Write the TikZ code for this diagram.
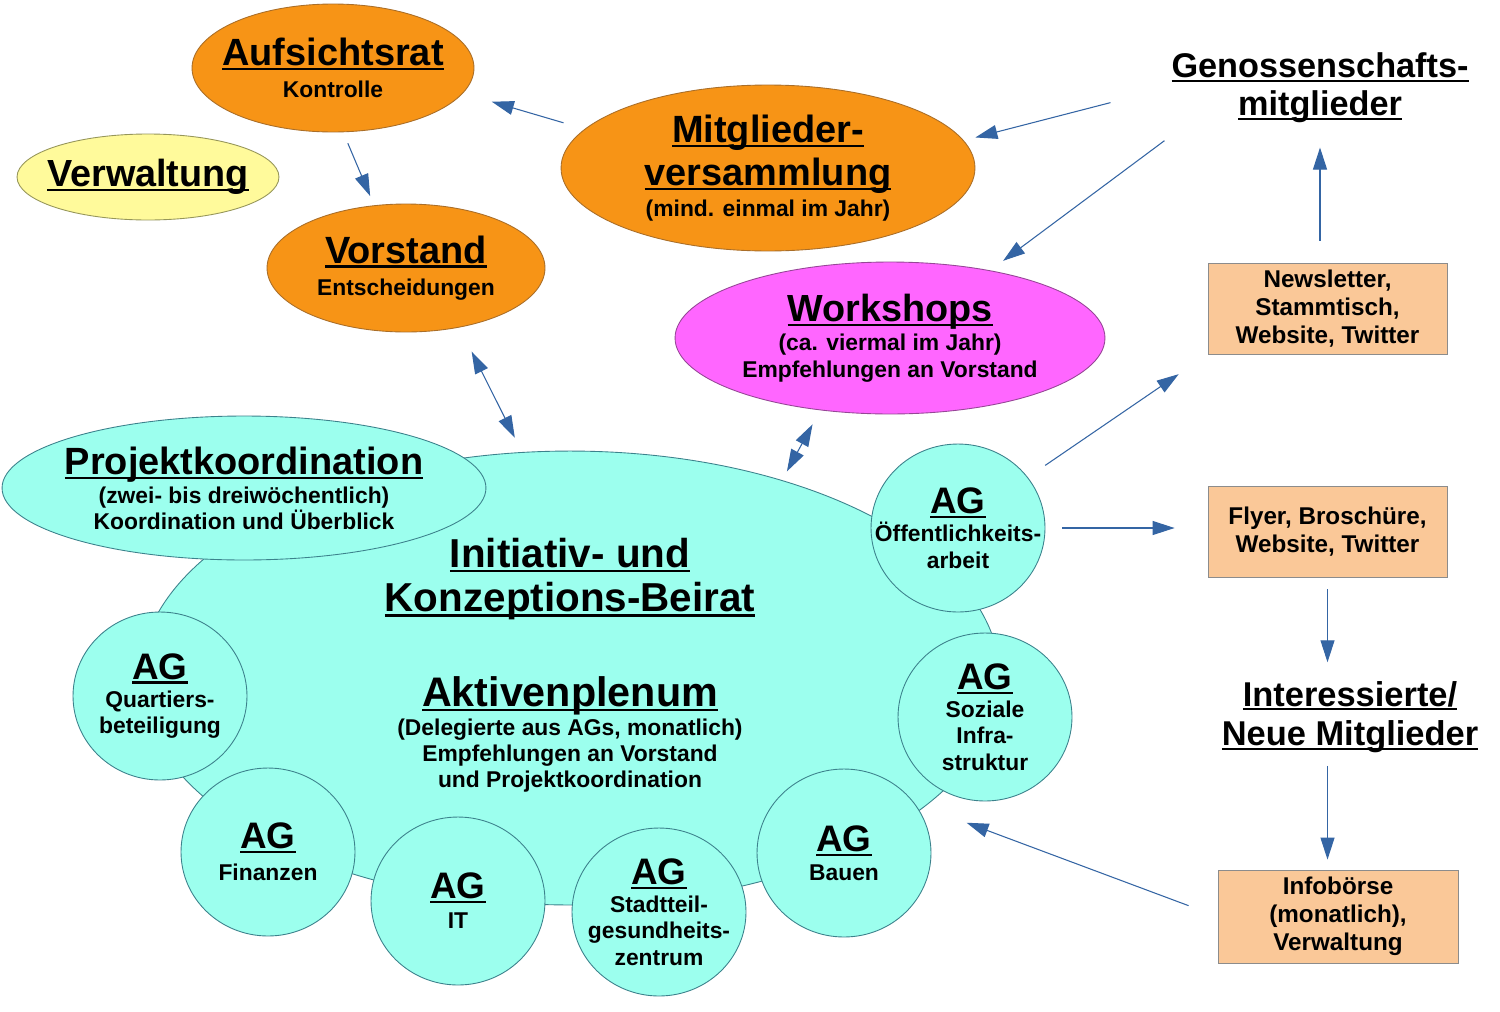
\documentclass[tikz,border=0pt]{standalone}
\usepackage{fontspec}
\setmainfont{Liberation Sans}
\usetikzlibrary{shapes.geometric, arrows.meta}
\definecolor{orgfill}{RGB}{247,148,22}
\definecolor{orgline}{RGB}{170,110,40}
\definecolor{ylwfill}{RGB}{255,250,155}
\definecolor{ylwline}{RGB}{150,150,90}
\definecolor{cyfill}{RGB}{156,255,238}
\definecolor{cyline}{RGB}{60,130,140}
\definecolor{mgfill}{RGB}{255,102,255}
\definecolor{mgline}{RGB}{150,70,150}
\definecolor{pchfill}{RGB}{250,200,152}
\definecolor{pchline}{RGB}{140,140,140}
\definecolor{arrblue}{RGB}{52,101,164}
\newcommand\undl[1]{\setbox0=\hbox{#1}\rlap{\rule[-.12em]{\wd0}{.06em}}\box0}
\newcommand\ttl[2][21.6]{{\fontsize{#1}{#1}\selectfont\undl{#2}}}
\begin{document}
\begin{tikzpicture}[x=0.02cm, y=-0.02cm,
txt/.style={font=\fontsize{13}{15}\selectfont\bfseries, align=center},
ell/.style={txt, ellipse, draw, line width=0.5pt, inner sep=0pt, inner xsep=-15pt},
orgell/.style={ell, fill=orgfill, draw=orgline},
cyell/.style={ell, fill=cyfill, draw=cyline},
agcirc/.style={cyell, minimum width=3.48cm, minimum height=3.36cm},
infobox/.style={txt, font=\fontsize{13.8}{15.8}\selectfont\bfseries,
draw=pchline, fill=pchfill, line width=0.5pt, minimum width=4.78cm, minimum height=1.82cm},
arr/.style={draw=arrblue, line width=0.6pt, -{Triangle[length=0.44cm, width=0.28cm]}},
dblarr/.style={arr, {Triangle[length=0.44cm, width=0.28cm]}-{Triangle[length=0.44cm, width=0.28cm]}}]
\useasboundingbox[fill=white] (0,0) rectangle (1500,1011);

\node[orgell, minimum width=5.64cm, minimum height=2.56cm] (ar) at (333,68)
{\ttl{Aufsichtsrat}\\[3pt] Kontrolle};
\node[ell, fill=ylwfill, draw=ylwline, minimum width=5.24cm, minimum height=1.72cm]
(vw) at (148,177) {\ttl[21.5]{Verwaltung}};
\node[orgell, minimum width=5.56cm, minimum height=2.56cm] (vs) at (406,268)
{\ttl{Vorstand}\\[3.5pt] Entscheidungen};
\node[orgell, minimum width=8.28cm, minimum height=3.32cm] (mv) at (768,168)
{\ttl{Mitglieder-}\\[3pt] \ttl{versammlung}\\[2.5pt] (mind. einmal im Jahr)};
\node[ell, fill=mgfill, draw=mgline, minimum width=8.6cm, minimum height=3.04cm]
(ws) at (890,338)
{\ttl[21.5]{Workshops}\\[1.3pt] (ca. viermal im Jahr)\\[0.3pt] Empfehlungen an Vorstand};

\node[cyell, minimum width=17.2cm, minimum height=9.08cm] (br) at (570,678)
{\ttl[23]{Initiativ- und}\\[4.7pt] \ttl[23]{Konzeptions-Beirat}\\[31pt]
\ttl[23.5]{Aktivenplenum}\\[1.5pt] (Delegierte aus AGs, monatlich)\\
Empfehlungen an Vorstand\\ und Projektkoordination\rule[-17pt]{0pt}{0pt}};
\node[cyell, minimum width=9.68cm, minimum height=2.88cm] (pk) at (244,488)
{\ttl{Projektkoordination}\\[1.5pt] (zwei- bis dreiwöchentlich)\\[-0.3pt]
Koordination und Überblick};

\node[agcirc] (agoe) at (958,528) {\ttl[21]{AG}\\[1pt] Öffentlichkeits-\\ arbeit};
\node[agcirc] (agqb) at (160,696) {\ttl[21]{AG}\\[1pt] Quartiers-\\ beteiligung};
\node[agcirc] (agsi) at (985,717) {\ttl[21]{AG}\\[1pt] Soziale\\ Infra-\\ struktur};
\node[agcirc] (agfi) at (268,852) {\ttl[21]{AG}\\[3pt] Finanzen};
\node[agcirc] (agit) at (458,901) {\ttl[21]{AG}\\[2pt] IT};
\node[agcirc] (agsg) at (659,912) {\ttl[21]{AG}\\[1pt] Stadtteil-\\ gesundheits-\\ zentrum};
\node[agcirc] (agba) at (844,853) {\ttl[21]{AG}\\[1.5pt] Bauen};

\node[txt, font=\fontsize{19.5}{21.8}\selectfont\bfseries, inner sep=0.08cm] (gm)
at (1320,88) {\undl{Genossenschafts-}\\ \undl{mitglieder}};
\node[infobox] (nl) at (1327.5,308.5) {Newsletter,\\ Stammtisch,\\ Website, Twitter};
\node[infobox] (fl) at (1327.5,531.5) {Flyer, Broschüre,\\ Website, Twitter};
\node[txt, font=\fontsize{19.6}{22.5}\selectfont\bfseries, inner sep=0.08cm] (neu)
at (1350,717) {\undl{Interessierte/}\\ \undl{Neue Mitglieder}};
\node[infobox, minimum width=4.8cm, minimum height=1.86cm] (ib) at (1338,916.5)
{Infobörse\\ (monatlich),\\ Verwaltung};

\draw[arr, shorten <=0.44cm, shorten >=0.6cm] (mv.168) -- (ar.-11);
\draw[arr, shorten <=0.24cm, shorten >=0.2cm] (ar.-81) -- (vs.117);
\draw[arr, shorten <=1.17cm, shorten >=0.24cm] (gm.west) -- (mv.8);
\draw[arr, shorten <=0.44cm, shorten >=0.32cm] (gm.196) -- (ws.34);
\draw[dblarr, shorten <=0.54cm, shorten >=0.32cm] (vs.-48) -- (br.102);
\draw[dblarr, shorten <=0.32cm, shorten >=0.2cm] (ws.226) -- (br.43.5);
\draw[arr, shorten <=0.42cm, shorten >=0.7cm] (agoe.36) -- (nl.south west);
\draw[arr, shorten <=0.34cm, shorten >=0.66cm] (agoe.east) -- (agoe.east -| fl.west);
\draw[arr, shorten <=0.44cm, shorten >=0.4cm] (gm.south |- nl.north) -- (gm.south);
\draw[arr, shorten <=0.24cm, shorten >=0.29cm] (fl.south) -- (fl.south |- neu.north);
\draw[arr, shorten <=0.17cm, shorten >=0.2cm] (fl.south |- neu.south) -- (fl.south |- ib.north);
\draw[arr, shorten <=0.62cm, shorten >=0.9cm] (ib.west) -- (br.-20);
\end{tikzpicture}
\end{document}
